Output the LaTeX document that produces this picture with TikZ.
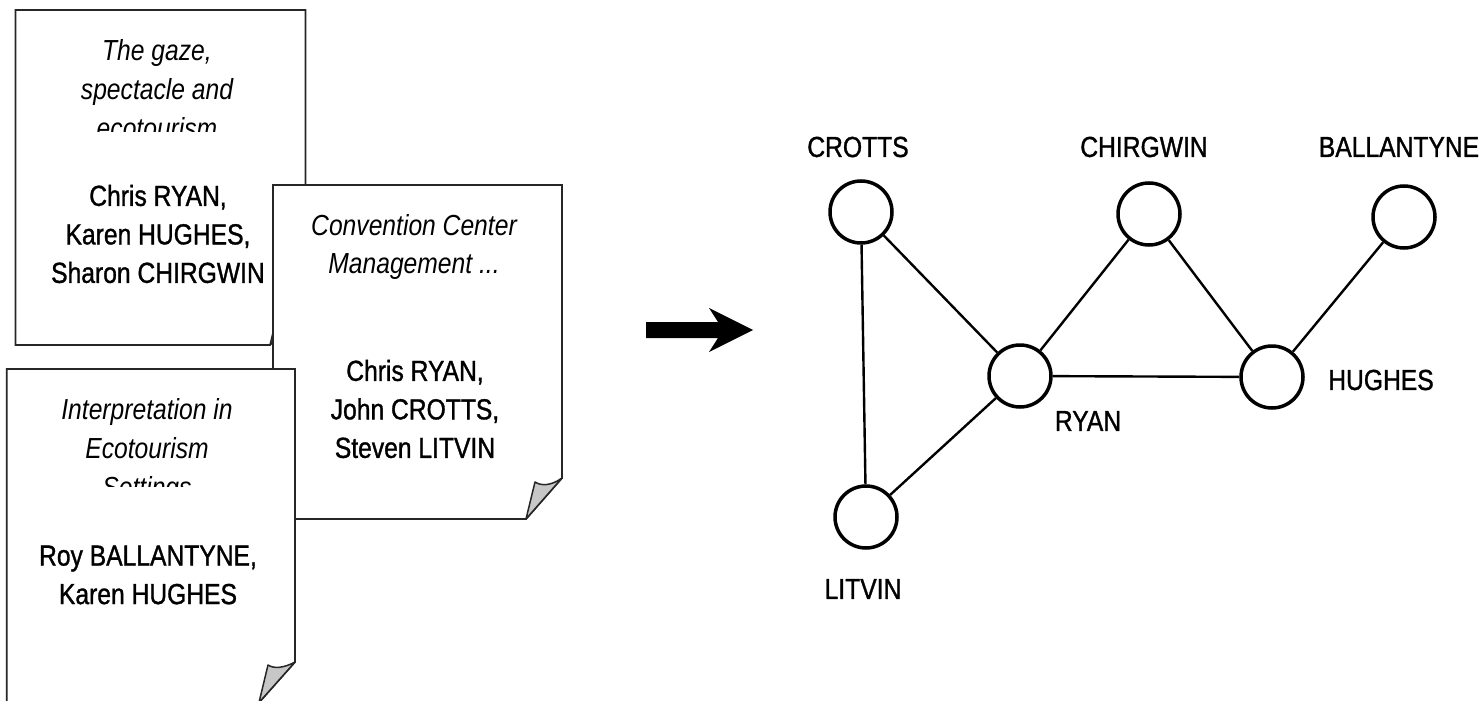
\documentclass[tikz,border=0pt]{standalone}
\usepackage{fontspec}
\setmainfont{Liberation Sans}[FakeStretch=0.85]
\newfontfamily\namefont{Liberation Sans}[FakeStretch=0.85,FakeBold=1.1]
\begin{document}
\begin{tikzpicture}[x=1pt,y=-1pt,
  sheet/.style={draw=black!85, line width=1.8pt, fill=white, line join=miter},
  foldcorner/.style={draw=black!85, line width=1.5pt, fill=black!22, line join=round},
  txt/.style={font=\fontsize{29}{38.5}\selectfont\namefont, align=center, inner sep=0pt},
  ttl/.style={font=\fontsize{29}{39}\selectfont\itshape, align=center, inner sep=0pt},
  person/.style={circle, draw, line width=3.5pt, minimum size=62pt, inner sep=0pt},
  lbl/.style={font=\fontsize{29}{38.5}\selectfont\namefont, inner sep=0pt},
  link/.style={line width=2.4pt}]
\clip (0,0) rectangle (1484,701);
\fill[white] (0,0) rectangle (1484,701);

% document 1
\draw[sheet] (15.5,10) -- (305.5,10) -- (305.5,306) -- (270,345) -- (15.5,345) -- cycle;
\draw[foldcorner] (270,345) -- (279,308) .. controls (285,312) and (295,311) .. (305.5,306) -- cycle;
\begin{scope}
  \clip (15,10) rectangle (306,131.7);
  \node[ttl] (t1) at (157,89) {The gaze,\\spectacle and\\ecotourism};
\end{scope}
\node[txt] (a1) at (158,234) {Chris RYAN,\\Karen HUGHES,\\Sharon CHIRGWIN};

% document 2
\draw[sheet] (273,185) -- (562,185) -- (562,478) -- (526,519) -- (273,519) -- cycle;
\draw[foldcorner] (526,519) -- (535,482) .. controls (541,486) and (551,486) .. (562,478) -- cycle;
\node[ttl] (t2) at (414,247) {Convention Center\\Management ...};
\node[txt] (a2) at (415,409) {Chris RYAN,\\John CROTTS,\\Steven LITVIN};

% document 3
\draw[sheet] (6.7,369) -- (295,369) -- (295,662) -- (259,702.5) -- (6.7,702.5) -- cycle;
\draw[foldcorner] (259,702.5) -- (268,665) .. controls (274,669) and (284,668) .. (295,662) -- cycle;
\begin{scope}
  \clip (6,369) rectangle (296,486.7);
  \node[ttl] (t3) at (147,451) {Interpretation in\\Ecotourism\\Settings};
\end{scope}
\node[txt] (a3) at (148,575) {Roy BALLANTYNE,\\Karen HUGHES};

% arrow
\fill[black] (646,322) -- (718,322) -- (709,308) -- (753,330) -- (709,352) -- (718,338) -- (646,338) -- cycle;

% graph
\node[person] (crotts) at (861,212) {};
\node[person] (chirgwin) at (1149,214) {};
\node[person] (ballantyne) at (1404,217) {};
\node[person] (ryan) at (1020,376) {};
\node[person] (hughes) at (1272,377) {};
\node[person] (litvin) at (866,517) {};

\node[lbl] (lcrotts) at (858,147) {CROTTS};
\node[lbl] (lchirgwin) at (1144,147) {CHIRGWIN};
\node[lbl] (lballantyne) at (1399,147) {BALLANTYNE};
\node[lbl] (lhughes) at (1381,380) {HUGHES};
\node[lbl] (lryan) at (1088,421) {RYAN};
\node[lbl] (llitvin) at (863,589) {LITVIN};

\draw[link] (crotts) -- (ryan);
\draw[link] (crotts) -- (litvin);
\draw[link] (litvin) -- (ryan);
\draw[link] (ryan) -- (chirgwin);
\draw[link] (chirgwin) -- (hughes);
\draw[link] (ryan) -- (hughes);
\draw[link] (hughes) -- (ballantyne);
\end{tikzpicture}
\end{document}
